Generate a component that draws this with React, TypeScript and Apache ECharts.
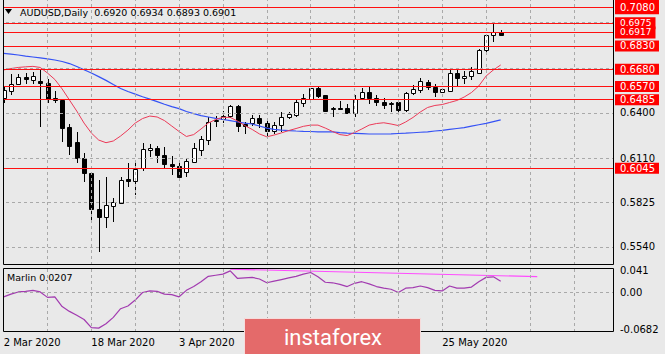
import React, { useEffect, useRef } from 'react';
import * as echarts from 'echarts';

// ---------- data ----------
const symbol = 'AUDUSD';
const timeframe = 'Daily';

const monthDays: [string, number[]][] = [
  ['Mar', [2, 3, 4, 5, 6, 9, 10, 11, 12, 13, 16, 17, 18, 19, 20, 23, 24, 25, 26, 27, 30, 31]],
  ['Apr', [1, 2, 3, 6, 7, 8, 9, 10, 13, 14, 15, 16, 17, 20, 21, 22, 23, 24, 27, 28, 29, 30]],
  ['May', [1, 4, 5, 6, 7, 8, 11, 12, 13, 14, 15, 18, 19, 20, 21, 22, 25, 26, 27, 28, 29]],
  ['Jun', [1, 2, 3, 4]],
];
const dates: string[] = monthDays.flatMap(([m, ds]) => ds.map((d) => `${d} ${m} 2020`));
const TOTAL_SLOTS = 84; // visible bar slots incl. empty right margin
const categories: string[] = [
  ...dates,
  ...Array.from({ length: TOTAL_SLOTS - dates.length }, (_, i) => `slot${i}`),
];
// date labels visible in the picture (the others sit under the logo)
const labelledBars: number[] = [0, 12, 24, 60];

// [open, high, low, close]
const ohlc: number[][] = [
  [0.6499, 0.6566, 0.6467, 0.6547],
  [0.6541, 0.6650, 0.6512, 0.6584],
  [0.6586, 0.6650, 0.6579, 0.6631],
  [0.6629, 0.6656, 0.6586, 0.6619],
  [0.6611, 0.6661, 0.6586, 0.6637],
  [0.6602, 0.6682, 0.6312, 0.6589],
  [0.6590, 0.6617, 0.6464, 0.6491],
  [0.6493, 0.6541, 0.6462, 0.6486],
  [0.6486, 0.6491, 0.6213, 0.6306],
  [0.6310, 0.6329, 0.6130, 0.6188],
  [0.6211, 0.6276, 0.6077, 0.6109],
  [0.6109, 0.6146, 0.5959, 0.6012],
  [0.6012, 0.6021, 0.5702, 0.5783],
  [0.5783, 0.5969, 0.5509, 0.5735],
  [0.5735, 0.5992, 0.5664, 0.5806],
  [0.5804, 0.5852, 0.5702, 0.5828],
  [0.5825, 0.5989, 0.5815, 0.5969],
  [0.5973, 0.6079, 0.5926, 0.5963],
  [0.5960, 0.6093, 0.5873, 0.6043],
  [0.6045, 0.6205, 0.6027, 0.6170],
  [0.6159, 0.6201, 0.6119, 0.6175],
  [0.6173, 0.6191, 0.6077, 0.6130],
  [0.6133, 0.6183, 0.6045, 0.6071],
  [0.6072, 0.6124, 0.6002, 0.6059],
  [0.6059, 0.6087, 0.5980, 0.5991],
  [0.6018, 0.6109, 0.5987, 0.6091],
  [0.6087, 0.6205, 0.6077, 0.6173],
  [0.6165, 0.6252, 0.6124, 0.6231],
  [0.6229, 0.6372, 0.6194, 0.6344],
  [0.6348, 0.6380, 0.6308, 0.6353],
  [0.6360, 0.6414, 0.6337, 0.6378],
  [0.6380, 0.6451, 0.6366, 0.6445],
  [0.6445, 0.6451, 0.6279, 0.6316],
  [0.6329, 0.6344, 0.6265, 0.6316],
  [0.6333, 0.6390, 0.6319, 0.6366],
  [0.6367, 0.6390, 0.6306, 0.6333],
  [0.6337, 0.6355, 0.6247, 0.6282],
  [0.6282, 0.6342, 0.6265, 0.6324],
  [0.6324, 0.6406, 0.6278, 0.6374],
  [0.6374, 0.6408, 0.6361, 0.6391],
  [0.6385, 0.6483, 0.6374, 0.6472],
  [0.6466, 0.6520, 0.6440, 0.6496],
  [0.6491, 0.6562, 0.6483, 0.6558],
  [0.6560, 0.6568, 0.6494, 0.6510],
  [0.6512, 0.6518, 0.6408, 0.6414],
  [0.6425, 0.6440, 0.6376, 0.6432],
  [0.6432, 0.6477, 0.6416, 0.6430],
  [0.6432, 0.6457, 0.6393, 0.6401],
  [0.6398, 0.6512, 0.6376, 0.6491],
  [0.6494, 0.6558, 0.6489, 0.6536],
  [0.6536, 0.6566, 0.6457, 0.6496],
  [0.6496, 0.6515, 0.6445, 0.6470],
  [0.6472, 0.6499, 0.6425, 0.6454],
  [0.6457, 0.6472, 0.6408, 0.6466],
  [0.6469, 0.6483, 0.6406, 0.6417],
  [0.6421, 0.6536, 0.6408, 0.6526],
  [0.6526, 0.6579, 0.6515, 0.6554],
  [0.6545, 0.6622, 0.6531, 0.6603],
  [0.6600, 0.6611, 0.6550, 0.6566],
  [0.6568, 0.6586, 0.6504, 0.6536],
  [0.6536, 0.6558, 0.6526, 0.6552],
  [0.6543, 0.6680, 0.6536, 0.6654],
  [0.6654, 0.6676, 0.6573, 0.6622],
  [0.6622, 0.6672, 0.6586, 0.6640],
  [0.6635, 0.6693, 0.6611, 0.6671],
  [0.6658, 0.6808, 0.6654, 0.6804],
  [0.6804, 0.6907, 0.6776, 0.6900],
  [0.6900, 0.6986, 0.6857, 0.6920],
  [0.6920, 0.6934, 0.6893, 0.6901],
];

const slowMA: number[] = [
  0.6782, 0.6777, 0.6772, 0.6765, 0.6759, 0.6753, 0.6747, 0.6740, 0.6730, 0.6717,
  0.6698, 0.6677, 0.6656, 0.6633, 0.6609, 0.6582, 0.6557, 0.6538, 0.6521, 0.6504,
  0.6489, 0.6473, 0.6456, 0.6441, 0.6428, 0.6409, 0.6396, 0.6383, 0.6374, 0.6365,
  0.6358, 0.6351, 0.6342, 0.6335, 0.6329, 0.6316, 0.6303, 0.6294, 0.6290, 0.6287,
  0.6284, 0.6282, 0.6281, 0.6279, 0.6279, 0.6278, 0.6274, 0.6271, 0.6269, 0.6267,
  0.6265, 0.6265, 0.6265, 0.6266, 0.6268, 0.6270, 0.6273, 0.6276, 0.6279, 0.6284,
  0.6288, 0.6294, 0.6300, 0.6306, 0.6315, 0.6324, 0.6333, 0.6344, 0.6355,
];

const fastMA: number[] = [
  0.6676, 0.6685, 0.6692, 0.6696, 0.6699, 0.6692, 0.6656, 0.6615, 0.6554, 0.6483,
  0.6412, 0.6335, 0.6271, 0.6226, 0.6209, 0.6220, 0.6252, 0.6290, 0.6335, 0.6364,
  0.6380, 0.6374, 0.6351, 0.6316, 0.6281, 0.6249, 0.6261, 0.6297, 0.6335, 0.6358,
  0.6372, 0.6371, 0.6348, 0.6319, 0.6294, 0.6265, 0.6247, 0.6258, 0.6272, 0.6287,
  0.6300, 0.6314, 0.6322, 0.6322, 0.6303, 0.6281, 0.6261, 0.6255, 0.6274, 0.6297,
  0.6322, 0.6332, 0.6337, 0.6329, 0.6319, 0.6342, 0.6371, 0.6406, 0.6435, 0.6448,
  0.6454, 0.6467, 0.6480, 0.6502, 0.6531, 0.6573, 0.6637, 0.6676, 0.6708,
];

const marlin: number[] = [
  -0.008, -0.003, 0.001, 0.002, 0.004, 0.001, -0.009, -0.008, -0.026, -0.035,
  -0.042, -0.050, -0.065, -0.066, -0.058, -0.046, -0.030, -0.025, -0.014, 0.000,
  0.003, 0.002, -0.003, -0.004, -0.008, 0.004, 0.011, 0.020, 0.030, 0.032,
  0.034, 0.040, 0.026, 0.027, 0.028, 0.025, 0.018, 0.021, 0.024, 0.027,
  0.030, 0.034, 0.037, 0.029, 0.019, 0.018, 0.015, 0.011, 0.017, 0.020,
  0.016, 0.011, 0.008, 0.006, 0.000, 0.008, 0.009, 0.012, 0.009, 0.004,
  0.003, 0.012, 0.008, 0.008, 0.010, 0.020, 0.028, 0.029, 0.0207,
];
const marlinLast = 0.0207;

// trend line drawn on the oscillator: [barIndex, value]
const marlinTrend: number[][] = [
  [31, 0.0432],
  [73, 0.0293],
];

// horizontal support / resistance levels
const levels: number[] = [0.708, 0.6975, 0.6917, 0.683, 0.668, 0.657, 0.6485, 0.6045];
// price grid levels (labelled / unlabelled)
const priceGridLabelled: number[] = [0.64, 0.611, 0.5825, 0.554];
const priceGridHidden: number[] = [0.669, 0.698];
// oscillator scale labels
const marlinTicks: number[] = [0.041, 0, -0.0682];
const marlinTickLabels: string[] = ['0.041', '0.00', '-0.0682'];

const VGRID_STEP = 6;

// ---------- chart ----------
const FONT = 'DejaVu Sans';
const BG = '#e9e9e9';
const GRIDC = '#a9a9a9';
const CLEAR = 'rgba(0,0,0,0)';

// label box sizing per level (keeps crowded labels from overlapping)
function levelBox(idx: number, sorted: number[]): { padding: number[]; lineHeight: number; fontSize: number } {
  if (idx === 0) return { padding: [4.5, 4, 0, 5], lineHeight: 10, fontSize: 10 };
  const v = sorted[idx];
  const above = sorted[idx - 1];
  const below = sorted[idx + 1];
  if (below !== undefined && v - below < 0.0065) return { padding: [0, 4, 3, 5], lineHeight: 9, fontSize: 9 };
  if (above !== undefined && above - v < 0.0065) return { padding: [3, 4, 0, 5], lineHeight: 9, fontSize: 9 };
  return { padding: [1, 4, 0, 5], lineHeight: 10, fontSize: 10 };
}

export default function App() {
  const ref = useRef<HTMLDivElement>(null);

  useEffect(() => {
    if (!ref.current) return;
    const chart = echarts.init(ref.current, undefined, { renderer: 'svg' });

    const vgrid: any[] = [];
    for (let i = VGRID_STEP; i < TOTAL_SLOTS; i += VGRID_STEP) {
      vgrid.push({
        xAxis: i,
        lineStyle: { color: GRIDC, type: [3, 3], width: 1 },
        label: { show: false },
      });
    }

    const candleData = ohlc.map((r, i) => [i, r[0], r[1], r[2], r[3]]);
    const last = ohlc[ohlc.length - 1];
    const sortedLevels = [...levels].sort((a, b) => b - a);

    const option: any = {
      animation: false,
      backgroundColor: BG,
      textStyle: { fontFamily: FONT },
      grid: [
        { left: 0, top: 0, width: 614, height: 265 },
        { left: 0, top: 269, width: 614, height: 63 },
      ],
      xAxis: [
        {
          type: 'category', gridIndex: 0, data: categories, boundaryGap: true,
          axisLine: { show: false }, axisTick: { show: false },
          axisLabel: { show: false }, splitLine: { show: false },
        },
        {
          type: 'category', gridIndex: 1, data: categories, boundaryGap: true,
          axisLine: { show: false }, axisTick: { show: false }, splitLine: { show: false },
          axisLabel: {
            show: true,
            interval: (i: number) => labelledBars.indexOf(i) >= 0,
            align: 'left', color: '#000', fontSize: 10, fontFamily: FONT, margin: 5,
          },
        },
      ],
      yAxis: [
        { type: 'value', gridIndex: 0, min: 0.542404, max: 0.712493, show: false },
        { type: 'value', gridIndex: 1, min: -0.07315, max: 0.04352, show: false },
      ],
      series: [
        {
          name: 'gridMain', type: 'line', xAxisIndex: 0, yAxisIndex: 0, z: 1,
          data: slowMA, showSymbol: false, silent: true,
          lineStyle: { color: CLEAR, width: 0 },
          markLine: {
            silent: true, symbol: ['none', 'none'], animation: false, precision: 4,
            label: { show: false },
            data: [
              ...vgrid,
              ...priceGridHidden.map((v) => ({
                yAxis: v, lineStyle: { color: GRIDC, type: [3, 3], width: 1 }, label: { show: false },
              })),
              ...priceGridLabelled.map((v) => ({
                yAxis: v,
                lineStyle: { color: GRIDC, type: [3, 3], width: 1 },
                label: {
                  show: true, position: 'end', distance: 6, color: '#000',
                  fontSize: 10, fontFamily: FONT,
                  formatter: () => v.toFixed(4),
                },
              })),
            ],
          },
        },
        {
          name: 'candles', type: 'custom', xAxisIndex: 0, yAxisIndex: 0, z: 2,
          data: candleData,
          encode: { x: 0, y: [1, 2, 3, 4] },
          renderItem: (params: any, api: any) => {
            const i = api.value(0);
            const o = api.value(1), h = api.value(2), l = api.value(3), c = api.value(4);
            const pO = api.coord([i, o]);
            const pC = api.coord([i, c]);
            const pH = api.coord([i, h]);
            const pL = api.coord([i, l]);
            const xs = Math.round(pO[0]) + 0.5;
            const top = Math.round(Math.min(pO[1], pC[1])) + 0.5;
            let bot = Math.round(Math.max(pO[1], pC[1])) + 0.5;
            if (bot - top < 1) bot = top + 1;
            return {
              type: 'group',
              children: [
                {
                  type: 'line',
                  shape: { x1: xs, y1: Math.round(pH[1]), x2: xs, y2: Math.round(pL[1]) },
                  style: { stroke: '#000', lineWidth: 1 },
                },
                {
                  type: 'rect',
                  shape: { x: xs - 2, y: top, width: 4, height: bot - top },
                  style: { fill: c >= o ? '#ffffff' : '#000000', stroke: '#000', lineWidth: 1 },
                },
              ],
            };
          },
        },
        {
          name: 'slowMA', type: 'line', xAxisIndex: 0, yAxisIndex: 0, z: 3,
          data: slowMA, showSymbol: false, silent: true,
          lineStyle: { color: '#3552f5', width: 1.2 },
          markLine: {
            silent: true, symbol: ['none', 'none'], animation: false, precision: 4,
            data: sortedLevels.map((v, idx) => {
              const box = levelBox(idx, sortedLevels);
              return {
                yAxis: v,
                lineStyle: { color: '#ff1010', type: 'solid', width: 1.2 },
                label: {
                  show: true, position: 'end', distance: 1,
                  color: '#ffffff', backgroundColor: '#ff0000',
                  padding: box.padding, lineHeight: box.lineHeight,
                  fontSize: box.fontSize, fontFamily: FONT,
                  formatter: () => v.toFixed(4),
                },
              };
            }),
          },
        },
        {
          name: 'fastMA', type: 'line', xAxisIndex: 0, yAxisIndex: 0, z: 3,
          data: fastMA, showSymbol: false, silent: true,
          lineStyle: { color: '#ec3a58', width: 1 },
        },
        {
          name: 'gridSub', type: 'line', xAxisIndex: 1, yAxisIndex: 1, z: 1,
          data: marlin, showSymbol: false, silent: true,
          lineStyle: { color: CLEAR, width: 0 },
          markLine: {
            silent: true, symbol: ['none', 'none'], animation: false, precision: 4,
            label: { show: false },
            data: [
              ...vgrid,
              ...marlinTicks.map((v, k) => ({
                yAxis: v,
                lineStyle: v === 0
                  ? { color: GRIDC, type: [3, 3], width: 1 }
                  : { color: CLEAR, width: 0 },
                label: {
                  show: true, position: 'end', distance: 6, color: '#000',
                  fontSize: 10, fontFamily: FONT,
                  padding: k === 0 ? [9, 0, 0, 0] : k === 2 ? [0, 0, 6, 0] : 0,
                  formatter: () => marlinTickLabels[k],
                },
              })),
            ],
          },
        },
        {
          name: 'Marlin', type: 'line', xAxisIndex: 1, yAxisIndex: 1, z: 3,
          data: marlin, showSymbol: false, silent: true,
          lineStyle: { color: '#a23bb0', width: 1.2 },
        },
        {
          name: 'trend', type: 'line', xAxisIndex: 1, yAxisIndex: 1, z: 3,
          data: marlinTrend, showSymbol: false, silent: true,
          lineStyle: { color: '#ff4cff', width: 1.2 },
        },
      ],
      graphic: [
        { type: 'rect', z: 90, shape: { x: 0, y: 0, width: 3, height: 354 }, style: { fill: BG } },
        {
          type: 'rect', z: 100,
          shape: { x: 3.5, y: -2, width: 610, height: 266.5 },
          style: { fill: 'none', stroke: '#000', lineWidth: 1 },
        },
        {
          type: 'rect', z: 100,
          shape: { x: 3.5, y: 268.5, width: 610, height: 63 },
          style: { fill: 'none', stroke: '#000', lineWidth: 1 },
        },
        {
          type: 'polygon', z: 100,
          shape: { points: [[5, 9], [12, 9], [8.5, 14]] },
          style: { fill: '#000' },
        },
        {
          type: 'text', z: 100, x: 20, y: 12,
          style: {
            text: `${symbol},${timeframe}  ${last.map((v) => v.toFixed(4)).join(' ')}`,
            fill: '#000', font: `9.5px "${FONT}"`, verticalAlign: 'middle', align: 'left',
          },
        },
        {
          type: 'text', z: 100, x: 7, y: 277.5,
          style: {
            text: `Marlin ${marlinLast.toFixed(4)}`,
            fill: '#000', font: `9.5px "${FONT}"`, verticalAlign: 'middle', align: 'left',
          },
        },
        {
          type: 'rect', z: 110,
          shape: { x: 244.5, y: 318.5, width: 176, height: 40 },
          style: { fill: '#e46a6a', stroke: '#f6dcdc', lineWidth: 1 },
        },
        {
          type: 'text', z: 111, x: 333, y: 337,
          style: {
            text: 'instaforex', fill: '#ffffff', font: '22px Roboto',
            align: 'center', verticalAlign: 'middle',
          },
        },
      ],
    };

    chart.setOption(option);
    return () => chart.dispose();
  }, []);

  return (
    <div
      ref={ref}
      style={{ position: 'absolute', left: 0, top: 0, width: 665, height: 354 }}
    />
  );
}
